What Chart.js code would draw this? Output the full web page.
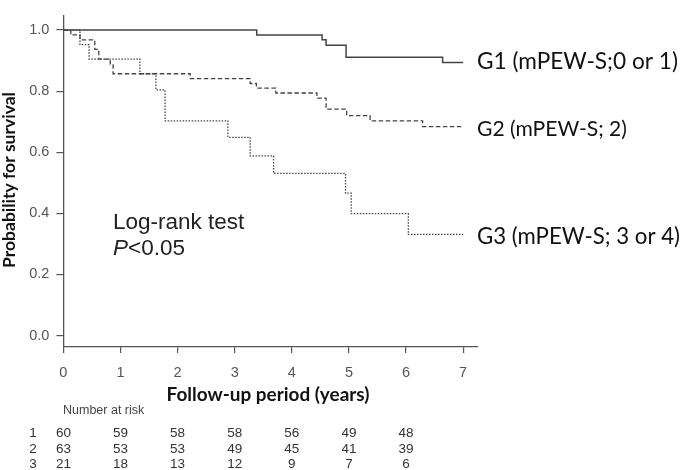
<!DOCTYPE html>
<html><head><meta charset="utf-8">
<script src="https://cdn.jsdelivr.net/npm/chart.js@4.4.1/dist/chart.umd.min.js"></script>
<style>html,body{margin:0;padding:0;background:#fff;}#wrap{width:685px;height:470px;position:relative;}</style>
</head><body><div id="wrap"><canvas id="c" width="685" height="470"></canvas></div>
<script>
// ---- data ----
const groupNames = ['G1 (mPEW-S;0 or 1)', 'G2 (mPEW-S; 2)', 'G3 (mPEW-S; 3 or 4)'];
const timesG1 = [0, 3.385, 4.53, 4.60, 4.95, 6.64, 7.0];
const survG1  = [1, 0.984, 0.968, 0.950, 0.911, 0.894, 0.894];
const timesG2 = [0, 0.13, 0.29, 0.55, 0.62, 0.82, 0.87, 2.22, 3.27, 3.38, 3.72, 4.44, 4.60, 4.96, 5.37, 6.29, 7.0];
const survG2  = [1, 0.984, 0.968, 0.937, 0.905, 0.889, 0.857, 0.841, 0.825, 0.810, 0.794, 0.777, 0.741, 0.720, 0.703, 0.684, 0.684];
const timesG3 = [0, 0.29, 0.45, 1.34, 1.62, 1.78, 2.88, 3.27, 3.68, 4.94, 5.04, 6.04, 7.0];
const survG3  = [1, 0.952, 0.905, 0.857, 0.804, 0.703, 0.649, 0.588, 0.531, 0.466, 0.399, 0.331, 0.331];
const xTicks = [0, 1, 2, 3, 4, 5, 6, 7];
const yTicks = [0, 0.2, 0.4, 0.6, 0.8, 1.0];
const riskTimes = [0, 1, 2, 3, 4, 5, 6];
const riskRowLabels = ['1', '2', '3'];
const riskG1 = [60, 59, 58, 58, 56, 49, 48];
const riskG2 = [63, 53, 53, 49, 45, 41, 39];
const riskG3 = [21, 18, 13, 12, 9, 7, 6];
const xTitle = 'Follow-up period (years)';
const yTitle = 'Probability for survival';
const testText = 'Log-rank test';
const pText = '<0.05';

const toPts = (t, s) => t.map((v, i) => ({x: v, y: s[i]}));
const AX = '#555';

function fitFont(ctx, text, target, weight, family, style) {
  ctx.font = (style||'') + ' ' + weight + ' 20px ' + family;
  const w = ctx.measureText(text).width;
  const size = 20 * target / w;
  ctx.font = (style||'') + ' ' + weight + ' ' + size.toFixed(2) + 'px ' + family;
  return size;
}

const textPlugin = {
  id: 'texts',
  afterDraw(chart) {
    const ctx = chart.ctx;
    const xs = chart.scales.x, ys = chart.scales.y;
    ctx.save();
    // group labels
    ctx.fillStyle = '#111';
    ctx.textBaseline = 'middle';
    ctx.textAlign = 'left';
    const ends = [survG1[survG1.length-1], survG2[survG2.length-1], survG3[survG3.length-1]];
    const offs = [-1, 3, 2];
    const widths = [201, 150, 203];
    groupNames.forEach((g, i) => {
      fitFont(ctx, g, widths[i], '400', 'Lato, "Noto Sans", sans-serif');
      ctx.fillText(g, 477, ys.getPixelForValue(ends[i]) + offs[i]);
    });
    // log-rank
    ctx.fillStyle = '#222';
    ctx.font = '22.5px "Liberation Sans", Arial, sans-serif';
    ctx.fillText(testText, 113, 223);
    ctx.font = 'italic 22.5px "Liberation Sans", Arial, sans-serif';
    ctx.fillText('P', 113, 249);
    const pw = ctx.measureText('P').width;
    ctx.font = '22.5px "Liberation Sans", Arial, sans-serif';
    ctx.fillText(pText, 113 + pw, 249);
    // x title
    ctx.fillStyle = '#111';
    ctx.textAlign = 'center';
    fitFont(ctx, xTitle, 203, '700', 'Lato, "Noto Sans", sans-serif');
    ctx.fillText(xTitle, 268, 395);
    // y title
    ctx.save();
    ctx.translate(9, 180);
    ctx.rotate(-Math.PI / 2);
    fitFont(ctx, yTitle, 176, '700', 'Lato, "Noto Sans", sans-serif');
    ctx.fillText(yTitle, 0, 0);
    ctx.restore();
    // risk table
    ctx.fillStyle = '#444';
    ctx.textAlign = 'left';
    ctx.font = '12.5px "Liberation Sans", Arial, sans-serif';
    ctx.fillText('Number at risk', 63, 411);
    const rows = [riskG1, riskG2, riskG3];
    const rowY = [433, 449, 464];
    ctx.font = '13.5px "Liberation Sans", Arial, sans-serif';
    ctx.fillStyle = '#333';
    rows.forEach((r, ri) => {
      ctx.textAlign = 'center';
      ctx.fillText(riskRowLabels[ri], 33, rowY[ri]);
      r.forEach((n, k) => {
        ctx.fillText(String(n), xs.getPixelForValue(riskTimes[k]), rowY[ri]);
      });
    });
    ctx.restore();
  }
};

new Chart(document.getElementById('c'), {
  type: 'scatter',
  data: {
    datasets: [
      {label: groupNames[2], data: toPts(timesG3, survG3), showLine: true, stepped: 'before',
       borderColor: '#444', borderWidth: 1.3, borderDash: [1.5, 1.5], pointRadius: 0, fill: false},
      {label: groupNames[1], data: toPts(timesG2, survG2), showLine: true, stepped: 'before',
       borderColor: '#444', borderWidth: 1.3, borderDash: [4.5, 2.5], pointRadius: 0, fill: false},
      {label: groupNames[0], data: toPts(timesG1, survG1), showLine: true, stepped: 'before',
       borderColor: '#444', borderWidth: 1.5, pointRadius: 0, fill: false}
    ]
  },
  options: {
    responsive: false, animation: false, devicePixelRatio: 1,
    layout: {padding: {left: 0, top: 0, right: 207, bottom: 0}},
    plugins: {legend: {display: false}, tooltip: {enabled: false}},
    scales: {
      x: {
        type: 'linear', min: 0, max: 7.26,
        afterBuildTicks: a => { a.ticks = xTicks.map(v => ({value: v})); },
        afterFit: a => { a.height = 123; },
        ticks: {color: AX, font: {size: 14.5, family: '"Liberation Sans", Arial'}, padding: 11, maxRotation: 0,
                callback: v => String(v)},
        grid: {drawOnChartArea: false, tickLength: 6, color: AX, lineWidth: 1.2},
        border: {color: AX, width: 1.3}
      },
      y: {
        type: 'linear', min: -0.0375, max: 1.047,
        afterBuildTicks: a => { a.ticks = yTicks.map(v => ({value: v})); },
        afterFit: a => { a.width = 63.4; },
        ticks: {color: AX, font: {size: 14.5, family: '"Liberation Sans", Arial'}, padding: 7,
                callback: v => Number(v).toFixed(1)},
        grid: {drawOnChartArea: false, tickLength: 7, color: AX, lineWidth: 1.2},
        border: {color: AX, width: 1.3}
      }
    }
  },
  plugins: [textPlugin]
});
</script>
</body></html>
